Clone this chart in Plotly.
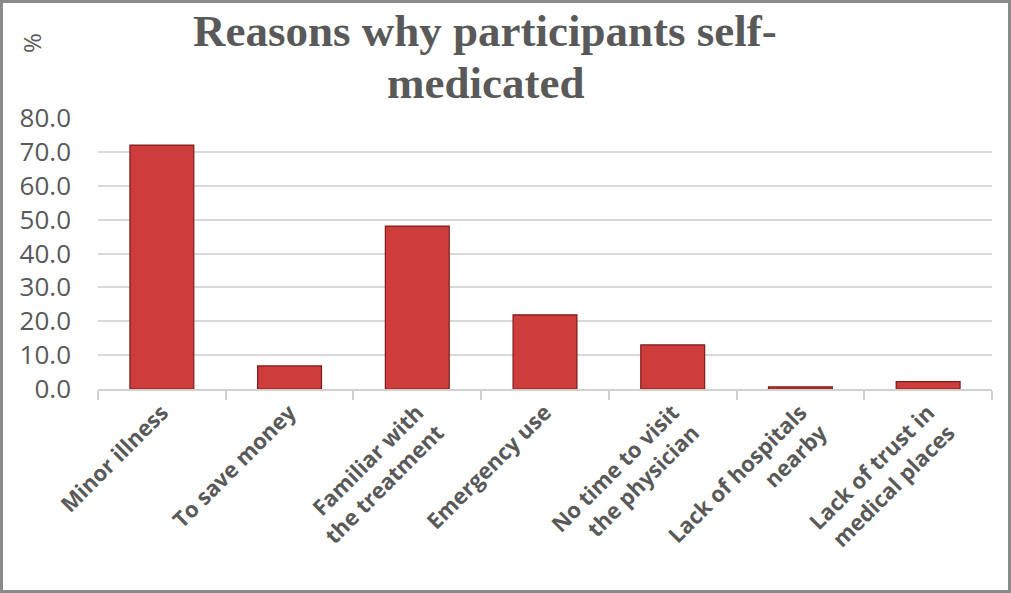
import plotly.graph_objects as go

categories = [
    "Minor illness",
    "To save money",
    "Familiar with<br>the treatment",
    "Emergency use",
    "No time to visit<br>the physician",
    "Lack of hospitals<br>nearby",
    "Lack of trust in<br>medical places",
]
values = [72.0, 6.8, 48.1, 21.9, 13.0, 0.6, 2.2]
y_ticks = [0, 10, 20, 30, 40, 50, 60, 70, 80]
y_tick_labels = [f"{v:.1f}" for v in y_ticks]
title_lines = ["Reasons why participants self-", "medicated"]

W, H = 1011, 593
L, R, T, B = 98, 19, 118, 204
pw, ph = W - L - R, H - T - B

fig = go.Figure()
fig.add_trace(go.Bar(
    x=categories, y=values,
    marker=dict(color="#cf3c3c", line=dict(color="#7d1a1a", width=1.2)),
    width=0.5,
    hoverinfo="x+y",
))

title_annots = []
for i, line in enumerate(title_lines):
    baseline_y = 48 + 52 * i
    title_annots.append(dict(
        text=f"<b>{line}</b>",
        x=(485 - L) / pw, y=1 + (T - baseline_y) / ph, xref="paper", yref="paper",
        showarrow=False, xanchor="center", yanchor="bottom", align="center",
        font=dict(family="Liberation Serif", size=45, color="#595959"),
        yshift=-10,
    ))

fig.update_layout(
    width=W, height=H,
    margin=dict(l=L, r=R, t=T, b=B),
    paper_bgcolor="white", plot_bgcolor="white",
    showlegend=False,
    bargap=0.5,
    xaxis=dict(
        tickangle=-45,
        tickfont=dict(family="Open Sans", size=22, color="#595959", weight="bold"),
        showline=True, linecolor="#d0d0d0", linewidth=2,
        ticks="outside", tickson="boundaries", ticklen=9, tickcolor="#d0d0d0", tickwidth=2,
        showgrid=False,
    ),
    yaxis=dict(
        range=[0, 80],
        tickvals=y_ticks, ticktext=y_tick_labels,
        tickfont=dict(family="Open Sans", size=26, color="#595959"),
        showgrid=True, gridcolor="#d9d9d9", gridwidth=2,
        zeroline=False, showline=False, ticks="",
        ticklabelstandoff=26,
    ),
    annotations=[
        dict(
            text="%", textangle=-90,
            x=-(L - 31) / pw, y=1 + (T - 43) / ph, xref="paper", yref="paper",
            showarrow=False, font=dict(family="Open Sans", size=24, color="#595959"),
            xanchor="center", yanchor="middle",
        ),
    ] + title_annots,
    shapes=[dict(
        type="rect", xref="paper", yref="paper",
        x0=-(L - 1.5) / pw, x1=1 + (R - 1.5) / pw,
        y0=-(B - 1.5) / ph, y1=1 + (T - 1.5) / ph,
        line=dict(color="#8a8a8a", width=3), fillcolor="rgba(0,0,0,0)",
        layer="above",
    )],
)

fig.write_html("out.html")
